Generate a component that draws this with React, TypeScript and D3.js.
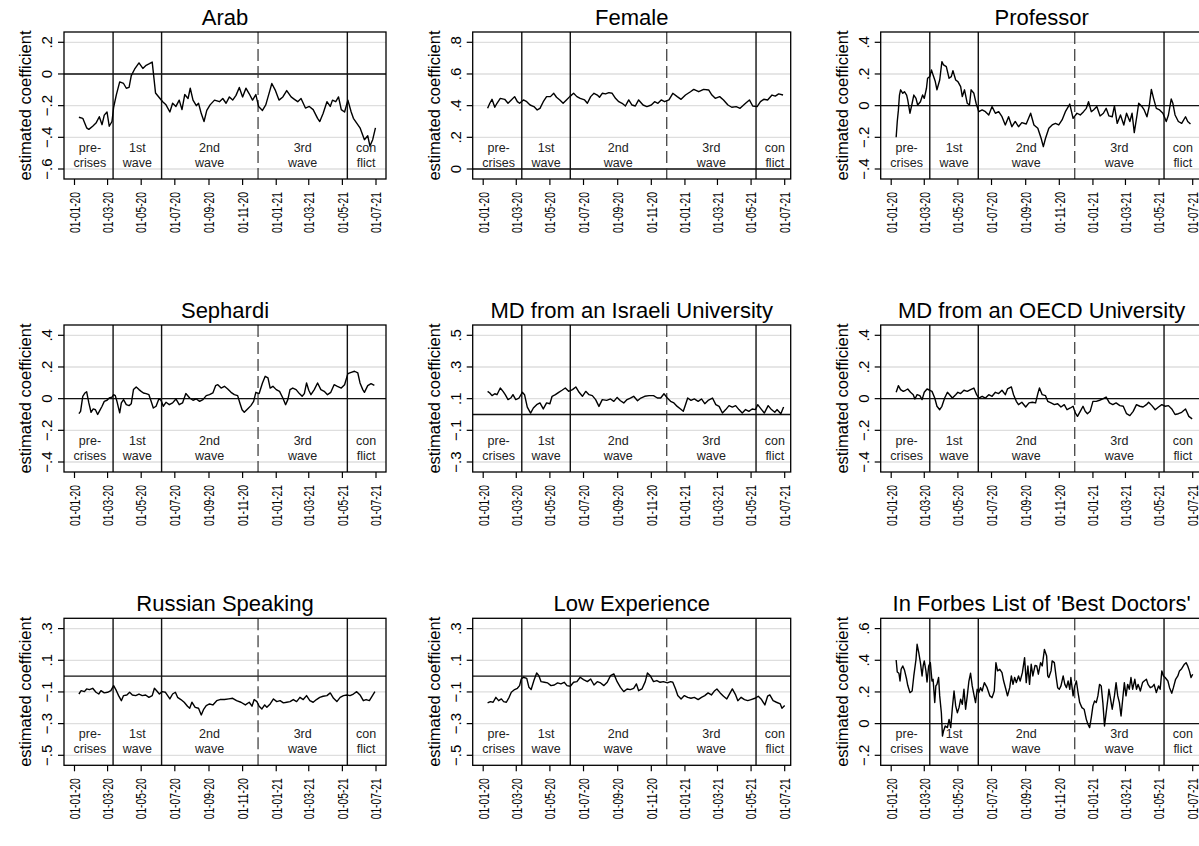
import React from 'react';
import * as d3 from 'd3';

// x axis: bimonthly ticks, Stata style labels
const tickDates = ['2020-01-01', '2020-03-01', '2020-05-01', '2020-07-01', '2020-09-01', '2020-11-01',
  '2021-01-01', '2021-03-01', '2021-05-01', '2021-07-01'];
const tickLabels = ['01-01-20', '01-03-20', '01-05-20', '01-07-20', '01-09-20', '01-11-20',
  '01-01-21', '01-03-21', '01-05-21', '01-07-21'];

// period boundaries (solid) and the dashed one between 2nd and 3rd wave
const solidBreaks = ['2020-03-11', '2020-06-07', '2021-05-10'];
const dashedBreaks = ['2020-11-29'];
const periodTop = ['pre-', '1st', '2nd', '3rd', 'con'];
const periodBottom = ['crises', 'wave', 'wave', 'wave', 'flict'];
const periodCenters = ['2020-01-29', '2020-04-24', '2020-09-02', '2021-02-18', '2021-06-13'];

// series: [days since 01-01-2020, estimated coefficient]
const arab = [[8,-0.273],[15,-0.28],[22,-0.34],[26,-0.35],[33,-0.33],[39,-0.31],[45,-0.27],[50,-0.32],[54,-0.26],[59,-0.24],[63,-0.33],[68,-0.30],[71,-0.21],[76,-0.13],[82,-0.05],[89,-0.06],[94,-0.09],[99,-0.085],[103,-0.01],[109,0.03],[117,0.07],[124,0.035],[130,0.055],[136,0.065],[141,0.075],[143,0.01],[147,-0.12],[154,-0.15],[160,-0.175],[166,-0.195],[173,-0.24],[178,-0.185],[184,-0.205],[190,-0.165],[195,-0.225],[200,-0.13],[206,-0.155],[210,-0.09],[215,-0.165],[221,-0.2],[225,-0.185],[230,-0.25],[235,-0.3],[240,-0.23],[246,-0.195],[254,-0.165],[263,-0.175],[269,-0.155],[275,-0.185],[281,-0.145],[287,-0.165],[293,-0.135],[299,-0.085],[305,-0.145],[311,-0.09],[317,-0.125],[323,-0.165],[329,-0.13],[334,-0.205],[341,-0.23],[347,-0.195],[354,-0.11],[358,-0.06],[364,-0.1],[371,-0.165],[378,-0.145],[385,-0.105],[393,-0.145],[399,-0.16],[405,-0.175],[411,-0.155],[419,-0.215],[426,-0.205],[433,-0.225],[441,-0.28],[445,-0.3],[451,-0.25],[458,-0.175],[464,-0.205],[468,-0.165],[474,-0.175],[479,-0.145],[484,-0.225],[490,-0.24],[496,-0.165],[502,-0.24],[506,-0.28],[512,-0.31],[518,-0.34],[526,-0.415],[532,-0.39],[536,-0.455],[541,-0.415],[546,-0.34]];

const female = [[8,0.383],[12,0.415],[16,0.44],[21,0.39],[25,0.415],[31,0.446],[39,0.44],[45,0.415],[51,0.436],[57,0.457],[62,0.425],[66,0.415],[73,0.436],[79,0.425],[85,0.404],[92,0.394],[98,0.373],[103,0.383],[109,0.425],[115,0.457],[122,0.457],[128,0.478],[133,0.453],[139,0.436],[145,0.415],[151,0.436],[157,0.457],[164,0.478],[170,0.457],[176,0.446],[184,0.436],[189,0.415],[195,0.457],[201,0.478],[207,0.467],[211,0.453],[216,0.478],[222,0.474],[228,0.482],[234,0.478],[240,0.446],[246,0.425],[252,0.415],[258,0.398],[264,0.436],[270,0.404],[276,0.398],[282,0.436],[290,0.404],[297,0.394],[305,0.404],[311,0.425],[317,0.415],[323,0.436],[329,0.425],[337,0.436],[344,0.478],[352,0.457],[359,0.44],[367,0.467],[376,0.488],[382,0.503],[391,0.488],[400,0.503],[409,0.499],[415,0.467],[421,0.446],[429,0.457],[436,0.436],[444,0.404],[451,0.39],[459,0.394],[466,0.383],[476,0.415],[483,0.436],[489,0.398],[497,0.394],[503,0.425],[509,0.44],[516,0.436],[524,0.467],[530,0.46],[536,0.474],[544,0.467]];

const professor = [[9,-0.2],[11,-0.1],[13,-0.03],[15,0.067],[17,0.1],[21,0.078],[24,0.088],[28,0.067],[30,0.036],[34,-0.048],[38,0.015],[41,0.067],[45,0.046],[48,0.004],[53,0.025],[57,0.067],[60,0.046],[64,0.11],[66,0.173],[70,0.183],[73,0.225],[76,0.194],[80,0.152],[83,0.1],[88,0.162],[92,0.278],[95,0.257],[100,0.246],[105,0.173],[109,0.183],[112,0.221],[117,0.162],[121,0.152],[126,0.12],[129,0.057],[133,0.1],[138,0.015],[142,0.004],[145,0.1],[150,0.078],[154,0.015],[159,-0.038],[165,-0.027],[171,-0.038],[177,-0.059],[183,-0.006],[189,-0.048],[195,-0.038],[201,-0.07],[207,-0.122],[213,-0.07],[219,-0.133],[225,-0.1],[231,-0.133],[237,-0.107],[245,-0.116],[253,-0.048],[259,-0.122],[266,-0.143],[272,-0.206],[276,-0.259],[280,-0.206],[286,-0.143],[292,-0.122],[298,-0.112],[304,-0.122],[310,-0.09],[316,-0.038],[324,0.01],[330,-0.08],[337,-0.048],[343,-0.059],[349,-0.038],[354,-0.017],[358,0.025],[363,-0.038],[367,-0.027],[373,-0.006],[379,-0.065],[385,-0.048],[390,-0.017],[395,-0.065],[401,-0.07],[405,-0.002],[410,-0.112],[416,-0.059],[422,-0.122],[427,-0.048],[433,-0.1],[437,-0.048],[441,-0.17],[446,-0.059],[449,0.015],[455,-0.006],[459,-0.027],[464,-0.07],[468,-0.006],[472,0.103],[476,0.046],[481,-0.017],[487,-0.027],[493,-0.048],[499,-0.1],[503,-0.059],[508,0.042],[511,0.015],[515,-0.059],[521,-0.1],[527,-0.112],[534,-0.07],[538,-0.1],[543,-0.116]];

const sephardi = [[8,-0.095],[11,-0.08],[15,0.015],[19,0.036],[22,0.044],[26,-0.027],[30,-0.086],[34,-0.065],[38,-0.07],[42,-0.1],[45,-0.08],[50,-0.048],[54,-0.017],[59,-0.01],[63,0.004],[68,0.01],[71,0.025],[74,0.019],[77,-0.017],[82,-0.09],[85,-0.027],[89,-0.006],[94,-0.038],[99,-0.044],[103,-0.032],[107,0.057],[112,0.074],[117,0.057],[121,0.046],[125,0.036],[130,0.032],[135,0.025],[139,-0.017],[143,-0.059],[148,-0.048],[153,-0.002],[157,-0.01],[161,-0.048],[166,-0.023],[172,-0.038],[178,-0.027],[184,-0.002],[190,-0.038],[196,-0.027],[202,0.032],[209,0.004],[215,-0.01],[221,-0.002],[227,-0.017],[233,-0.006],[239,0.019],[245,0.025],[251,0.036],[256,0.082],[260,0.088],[266,0.067],[272,0.078],[278,0.061],[284,0.04],[290,0.025],[296,0.019],[300,-0.027],[304,-0.07],[308,-0.086],[314,-0.065],[320,-0.044],[325,-0.017],[329,0.04],[335,0.032],[341,0.099],[346,0.141],[351,0.131],[355,0.067],[360,0.078],[366,0.057],[372,0.046],[378,0.004],[383,-0.038],[387,-0.006],[391,0.057],[396,0.067],[402,0.057],[408,0.032],[413,0.015],[417,0.032],[421,0.099],[425,0.053],[429,0.025],[435,0.057],[441,0.099],[447,0.057],[453,0.046],[459,0.025],[465,0.04],[471,0.088],[477,0.078],[484,0.067],[490,0.088],[496,0.158],[502,0.166],[508,0.173],[514,0.162],[518,0.099],[523,0.057],[526,0.04],[532,0.082],[538,0.095],[544,0.084]];

const mdIsrael = [[8,0.146],[12,0.136],[16,0.119],[21,0.131],[25,0.125],[31,0.167],[36,0.146],[40,0.125],[45,0.094],[50,0.104],[54,0.125],[59,0.094],[65,0.104],[71,0.14],[75,0.125],[80,0.047],[86,0.009],[91,0.041],[97,0.062],[103,0.073],[109,0.035],[115,0.073],[121,0.068],[125,0.115],[131,0.125],[137,0.14],[143,0.153],[149,0.167],[155,0.146],[162,0.157],[168,0.174],[174,0.14],[180,0.115],[186,0.146],[192,0.125],[198,0.119],[204,0.094],[210,0.051],[216,0.094],[224,0.089],[231,0.098],[237,0.083],[243,0.108],[249,0.087],[255,0.073],[261,0.094],[267,0.104],[273,0.115],[280,0.087],[286,0.104],[293,0.115],[301,0.119],[309,0.119],[316,0.104],[322,0.104],[328,0.131],[334,0.104],[340,0.083],[346,0.073],[352,0.051],[358,0.035],[363,0.02],[367,0.062],[371,0.104],[377,0.089],[383,0.098],[390,0.083],[396,0.098],[402,0.068],[408,0.089],[416,0.104],[422,0.062],[428,0.051],[434,0.009],[440,0.031],[446,0.056],[452,0.047],[458,0.056],[464,0.031],[470,0.009],[476,0.031],[482,0.02],[488,0.035],[494,0.031],[498,0.062],[504,0.035],[510,0.009],[517,0.056],[523,0.031],[529,0.014],[533,0.031],[540,0.005],[545,0.047]];

const mdOecd = [[9,0.04],[13,0.082],[17,0.057],[22,0.046],[26,0.053],[30,0.061],[35,0.04],[40,0.025],[43,-0.002],[47,0.025],[52,0.019],[56,-0.006],[60,0.04],[65,0.061],[70,0.053],[74,0.046],[79,0.004],[83,-0.048],[88,-0.07],[92,-0.048],[97,0.004],[102,0.04],[106,0.025],[111,0.004],[117,0.025],[121,0.04],[126,0.032],[132,0.053],[138,0.046],[144,0.057],[150,0.067],[155,0.025],[159,0.004],[165,0.015],[171,0.004],[177,0.025],[183,0.015],[189,0.04],[195,0.032],[201,0.053],[207,0.025],[211,0.061],[218,0.074],[222,0.025],[227,-0.017],[231,-0.038],[237,-0.023],[244,-0.053],[250,-0.027],[256,-0.023],[262,-0.027],[266,0.032],[269,0.067],[274,0.025],[280,0.019],[284,-0.017],[290,-0.027],[296,-0.038],[302,-0.032],[308,-0.053],[314,-0.038],[319,-0.07],[325,-0.059],[330,-0.048],[334,-0.09],[338,-0.112],[343,-0.08],[348,-0.048],[352,-0.08],[356,-0.095],[361,-0.08],[366,-0.017],[372,-0.017],[378,-0.01],[384,-0.002],[390,0.01],[396,-0.027],[402,-0.038],[408,-0.027],[415,-0.044],[421,-0.048],[427,-0.095],[433,-0.107],[439,-0.08],[445,-0.038],[451,-0.048],[457,-0.053],[463,-0.038],[467,-0.023],[473,-0.044],[479,-0.07],[485,-0.053],[491,-0.038],[497,-0.048],[503,-0.044],[509,-0.065],[515,-0.1],[521,-0.095],[527,-0.086],[534,-0.065],[540,-0.112],[546,-0.128]];

const russian = [[8,-0.113],[12,-0.092],[18,-0.098],[22,-0.081],[27,-0.085],[33,-0.077],[39,-0.102],[44,-0.113],[48,-0.092],[54,-0.106],[60,-0.102],[66,-0.092],[71,-0.06],[76,-0.092],[80,-0.123],[85,-0.155],[89,-0.123],[95,-0.119],[100,-0.102],[105,-0.119],[111,-0.123],[117,-0.113],[123,-0.123],[129,-0.119],[135,-0.134],[141,-0.123],[145,-0.077],[149,-0.092],[154,-0.113],[159,-0.098],[165,-0.102],[169,-0.123],[173,-0.144],[178,-0.113],[183,-0.102],[187,-0.134],[193,-0.148],[199,-0.165],[205,-0.19],[209,-0.203],[213,-0.165],[219,-0.197],[225,-0.203],[230,-0.245],[234,-0.212],[239,-0.186],[245,-0.176],[251,-0.182],[258,-0.155],[264,-0.148],[272,-0.148],[280,-0.144],[287,-0.14],[294,-0.155],[302,-0.165],[310,-0.182],[317,-0.165],[322,-0.19],[326,-0.148],[331,-0.161],[335,-0.19],[340,-0.207],[345,-0.182],[349,-0.197],[355,-0.176],[361,-0.144],[367,-0.161],[373,-0.155],[379,-0.169],[385,-0.165],[391,-0.161],[397,-0.148],[403,-0.161],[409,-0.134],[415,-0.148],[421,-0.123],[427,-0.155],[433,-0.165],[439,-0.148],[445,-0.134],[451,-0.127],[458,-0.123],[464,-0.106],[470,-0.14],[476,-0.161],[482,-0.134],[488,-0.123],[494,-0.119],[500,-0.123],[506,-0.113],[512,-0.098],[518,-0.119],[524,-0.155],[529,-0.148],[535,-0.155],[540,-0.127],[545,-0.098]];

const lowExperience = [[8,-0.169],[13,-0.161],[18,-0.165],[23,-0.134],[28,-0.155],[33,-0.144],[37,-0.161],[42,-0.165],[47,-0.134],[51,-0.102],[57,-0.085],[62,-0.077],[66,-0.06],[69,-0.018],[73,-0.007],[79,-0.014],[83,-0.071],[87,-0.085],[92,-0.028],[97,0.02],[101,0.003],[105,-0.035],[111,-0.039],[117,-0.043],[123,-0.06],[129,-0.056],[135,-0.043],[141,-0.049],[147,-0.039],[152,-0.06],[158,-0.064],[164,-0.039],[170,-0.035],[176,-0.007],[182,-0.022],[189,-0.035],[195,-0.018],[201,-0.056],[207,-0.035],[213,-0.043],[219,-0.06],[225,-0.039],[231,0.003],[237,0.014],[243,-0.035],[249,-0.071],[255,-0.098],[261,-0.081],[267,-0.085],[273,-0.077],[278,-0.049],[282,-0.092],[288,-0.081],[294,-0.035],[298,0.02],[303,0.003],[309,-0.035],[315,-0.028],[321,-0.039],[327,-0.035],[334,-0.043],[340,-0.035],[344,-0.039],[349,-0.081],[353,-0.123],[359,-0.144],[365,-0.123],[371,-0.134],[377,-0.14],[383,-0.134],[390,-0.148],[396,-0.134],[402,-0.123],[408,-0.106],[414,-0.119],[420,-0.092],[424,-0.081],[430,-0.106],[436,-0.127],[442,-0.144],[448,-0.106],[452,-0.081],[458,-0.119],[462,-0.155],[468,-0.134],[474,-0.148],[480,-0.155],[486,-0.148],[493,-0.14],[499,-0.127],[505,-0.148],[511,-0.182],[516,-0.127],[520,-0.119],[526,-0.155],[532,-0.165],[539,-0.176],[542,-0.203],[547,-0.186]];

const forbes = [[9,0.402],[11,0.326],[14,0.318],[16,0.269],[18,0.343],[21,0.364],[24,0.339],[28,0.28],[30,0.242],[34,0.196],[38,0.206],[41,0.301],[45,0.406],[47,0.501],[50,0.448],[53,0.385],[56,0.301],[58,0.364],[60,0.396],[63,0.333],[65,0.263],[68,0.364],[71,0.385],[74,0.269],[76,0.28],[79,0.133],[81,0.238],[83,0.248],[86,0.291],[88,0.175],[91,0.069],[93,-0.078],[95,-0.046],[98,-0.015],[102,-0.025],[105,0.027],[108,-0.025],[111,0.101],[114,0.206],[117,0.112],[120,0.069],[123,0.101],[126,0.154],[129,0.122],[132,0.217],[135,0.091],[138,0.175],[141,0.269],[144,0.318],[147,0.238],[150,0.185],[153,0.133],[156,0.217],[159,0.196],[162,0.227],[165,0.206],[169,0.259],[174,0.227],[179,0.175],[183,0.164],[187,0.206],[190,0.385],[193,0.333],[197,0.343],[201,0.322],[204,0.269],[208,0.217],[211,0.175],[215,0.227],[218,0.301],[221,0.248],[224,0.291],[227,0.259],[231,0.301],[234,0.269],[238,0.322],[242,0.417],[245,0.259],[248,0.364],[251,0.248],[254,0.375],[257,0.301],[261,0.368],[264,0.364],[267,0.312],[271,0.385],[274,0.364],[278,0.469],[282,0.427],[284,0.301],[286,0.291],[290,0.333],[292,0.396],[296,0.385],[299,0.301],[302,0.227],[305,0.217],[308,0.238],[312,0.301],[315,0.248],[318,0.227],[321,0.269],[324,0.217],[326,0.291],[330,0.175],[333,0.238],[336,0.269],[339,0.196],[342,0.133],[346,0.101],[350,0.091],[354,0.027],[357,-0.004],[360,-0.025],[363,0.038],[366,0.112],[369,0.143],[372,0.133],[375,0.175],[378,0.248],[381,0.238],[384,0.133],[387,-0.015],[390,0.069],[393,0.154],[395,0.217],[398,0.154],[401,0.091],[405,0.175],[408,0.259],[411,0.175],[414,0.133],[417,0.048],[420,0.154],[423,0.259],[426,0.175],[429,0.248],[432,0.217],[435,0.291],[438,0.217],[442,0.28],[445,0.217],[448,0.248],[452,0.206],[456,0.259],[459,0.269],[463,0.28],[466,0.248],[470,0.227],[474,0.234],[477,0.248],[481,0.196],[485,0.238],[488,0.217],[491,0.333],[494,0.301],[497,0.291],[502,0.269],[505,0.227],[509,0.192],[512,0.227],[516,0.28],[520,0.301],[523,0.333],[527,0.347],[532,0.375],[535,0.385],[538,0.364],[541,0.333],[544,0.291],[547,0.312]];

// panel titles, their series and y ticks, in reading order
const titles = ['Arab', 'Female', 'Professor', 'Sephardi', 'MD from an Israeli University',
  'MD from an OECD University', 'Russian Speaking', 'Low Experience', "In Forbes List of 'Best Doctors'"];
const seriesList = [arab, female, professor, sephardi, mdIsrael, mdOecd, russian, lowExperience, forbes];
const yTickList = [
  [-0.6, -0.4, -0.2, 0, 0.2],
  [0, 0.2, 0.4, 0.6, 0.8],
  [-0.4, -0.2, 0, 0.2, 0.4],
  [-0.4, -0.2, 0, 0.2, 0.4],
  [-0.3, -0.1, 0.1, 0.3, 0.5],
  [-0.4, -0.2, 0, 0.2, 0.4],
  [-0.5, -0.3, -0.1, 0.1, 0.3],
  [-0.5, -0.3, -0.1, 0.1, 0.3],
  [-0.2, 0, 0.2, 0.4, 0.6]
];

const W = 1199, H = 846;
const colLeft = [64, 472.7, 880.7];
const colWidth = [322, 318, 322];
const rowTop = [32, 325, 618.3];
const frameH = 147;
const FONT = '"Liberation Sans", Arial, sans-serif';

const parse = d3.timeParse('%Y-%m-%d');
const origin = parse('2020-01-01') as Date;

// Stata's compact number format: .2, -.4, 0
const fmt = (v: number) => (v === 0 ? '0' : d3.format('.1f')(v).replace('0.', '.'));

function Panel({ idx }: { idx: number }) {
  const col = idx % 3, row = Math.floor(idx / 3);
  const left = colLeft[col], w = colWidth[col], top = rowTop[row];
  const bottom = top + frameH;
  const ticks = yTickList[idx];

  const x = d3.scaleTime()
    .domain([parse('2020-01-01') as Date, parse('2021-07-01') as Date])
    .range([left + 10.5, left + 312]);
  const y = d3.scaleLinear()
    .domain([ticks[0], ticks[ticks.length - 1]])
    .range([top + 137, top + 10.3]);

  const line = d3.line<number[]>()
    .x(d => x(d3.timeDay.offset(origin, d[0])))
    .y(d => y(d[1]));

  const clipId = `clip-${idx}`;
  return (
    <g>
      <defs>
        <clipPath id={clipId}>
          <rect x={left} y={top} width={w} height={frameH} />
        </clipPath>
      </defs>
      <text x={left + w / 2} y={top - 7.5} textAnchor="middle" fontSize={22} fill="#000">{titles[idx]}</text>

      {/* gridlines */}
      {ticks.map(t => (
        <line key={'g' + t} x1={left} x2={left + w} y1={y(t)} y2={y(t)} stroke="#dedede" strokeWidth={1.3} />
      ))}

      <g clipPath={`url(#${clipId})`}>
        <line x1={left} x2={left + w} y1={y(0)} y2={y(0)} stroke="#111" strokeWidth={1.4} />
        {solidBreaks.map(d => (
          <line key={d} x1={x(parse(d) as Date)} x2={x(parse(d) as Date)} y1={top} y2={bottom} stroke="#111" strokeWidth={1.4} />
        ))}
        {dashedBreaks.map(d => (
          <line key={d} x1={x(parse(d) as Date)} x2={x(parse(d) as Date)} y1={top} y2={bottom} stroke="#333" strokeWidth={1.2} strokeDasharray="12,5" />
        ))}
        <path d={line(seriesList[idx] as number[][]) || ''} fill="none" stroke="#000" strokeWidth={1.4} strokeLinejoin="round" />
      </g>

      {periodCenters.map((d, i) => (
        <text key={d} x={x(parse(d) as Date)} textAnchor="middle" fontSize={12.5} fill="#222">
          <tspan x={x(parse(d) as Date)} y={top + 120}>{periodTop[i]}</tspan>
          <tspan x={x(parse(d) as Date)} y={top + 134.5}>{periodBottom[i]}</tspan>
        </text>
      ))}

      <rect x={left} y={top} width={w} height={frameH} fill="none" stroke="#000" strokeWidth={1.3} />

      {/* y axis */}
      {ticks.map(t => (
        <g key={'y' + t}>
          <line x1={left - 6} x2={left} y1={y(t)} y2={y(t)} stroke="#000" strokeWidth={1.2} />
          <text transform={`translate(${left - 12},${y(t)}) rotate(-90)`} textAnchor="middle" fontSize={15} fill="#000">{fmt(t)}</text>
        </g>
      ))}
      <text transform={`translate(${left - 33},${top + frameH / 2}) rotate(-90)`} textAnchor="middle" fontSize={16.5} fill="#000">estimated coefficient</text>

      {/* x axis */}
      {tickDates.map((d, i) => {
        const xx = x(parse(d) as Date);
        return (
          <g key={d}>
            <line x1={xx} x2={xx} y1={bottom} y2={bottom + 6} stroke="#000" strokeWidth={1.2} />
            <text transform={`translate(${xx + 5.3},${bottom + 13}) rotate(-90)`} textAnchor="end" fontSize={15}
              textLength={41} lengthAdjust="spacingAndGlyphs" fill="#000">{tickLabels[i]}</text>
          </g>
        );
      })}
    </g>
  );
}

export default function App() {
  return (
    <div style={{ position: 'absolute', left: 0, top: 0, width: W, height: H, overflow: 'hidden', background: '#fff' }}>
      <svg width={W} height={H} style={{ display: 'block', fontFamily: FONT }}>
        <rect width={W} height={H} fill="#fff" />
        {titles.map((_, i) => <Panel key={i} idx={i} />)}
      </svg>
    </div>
  );
}
